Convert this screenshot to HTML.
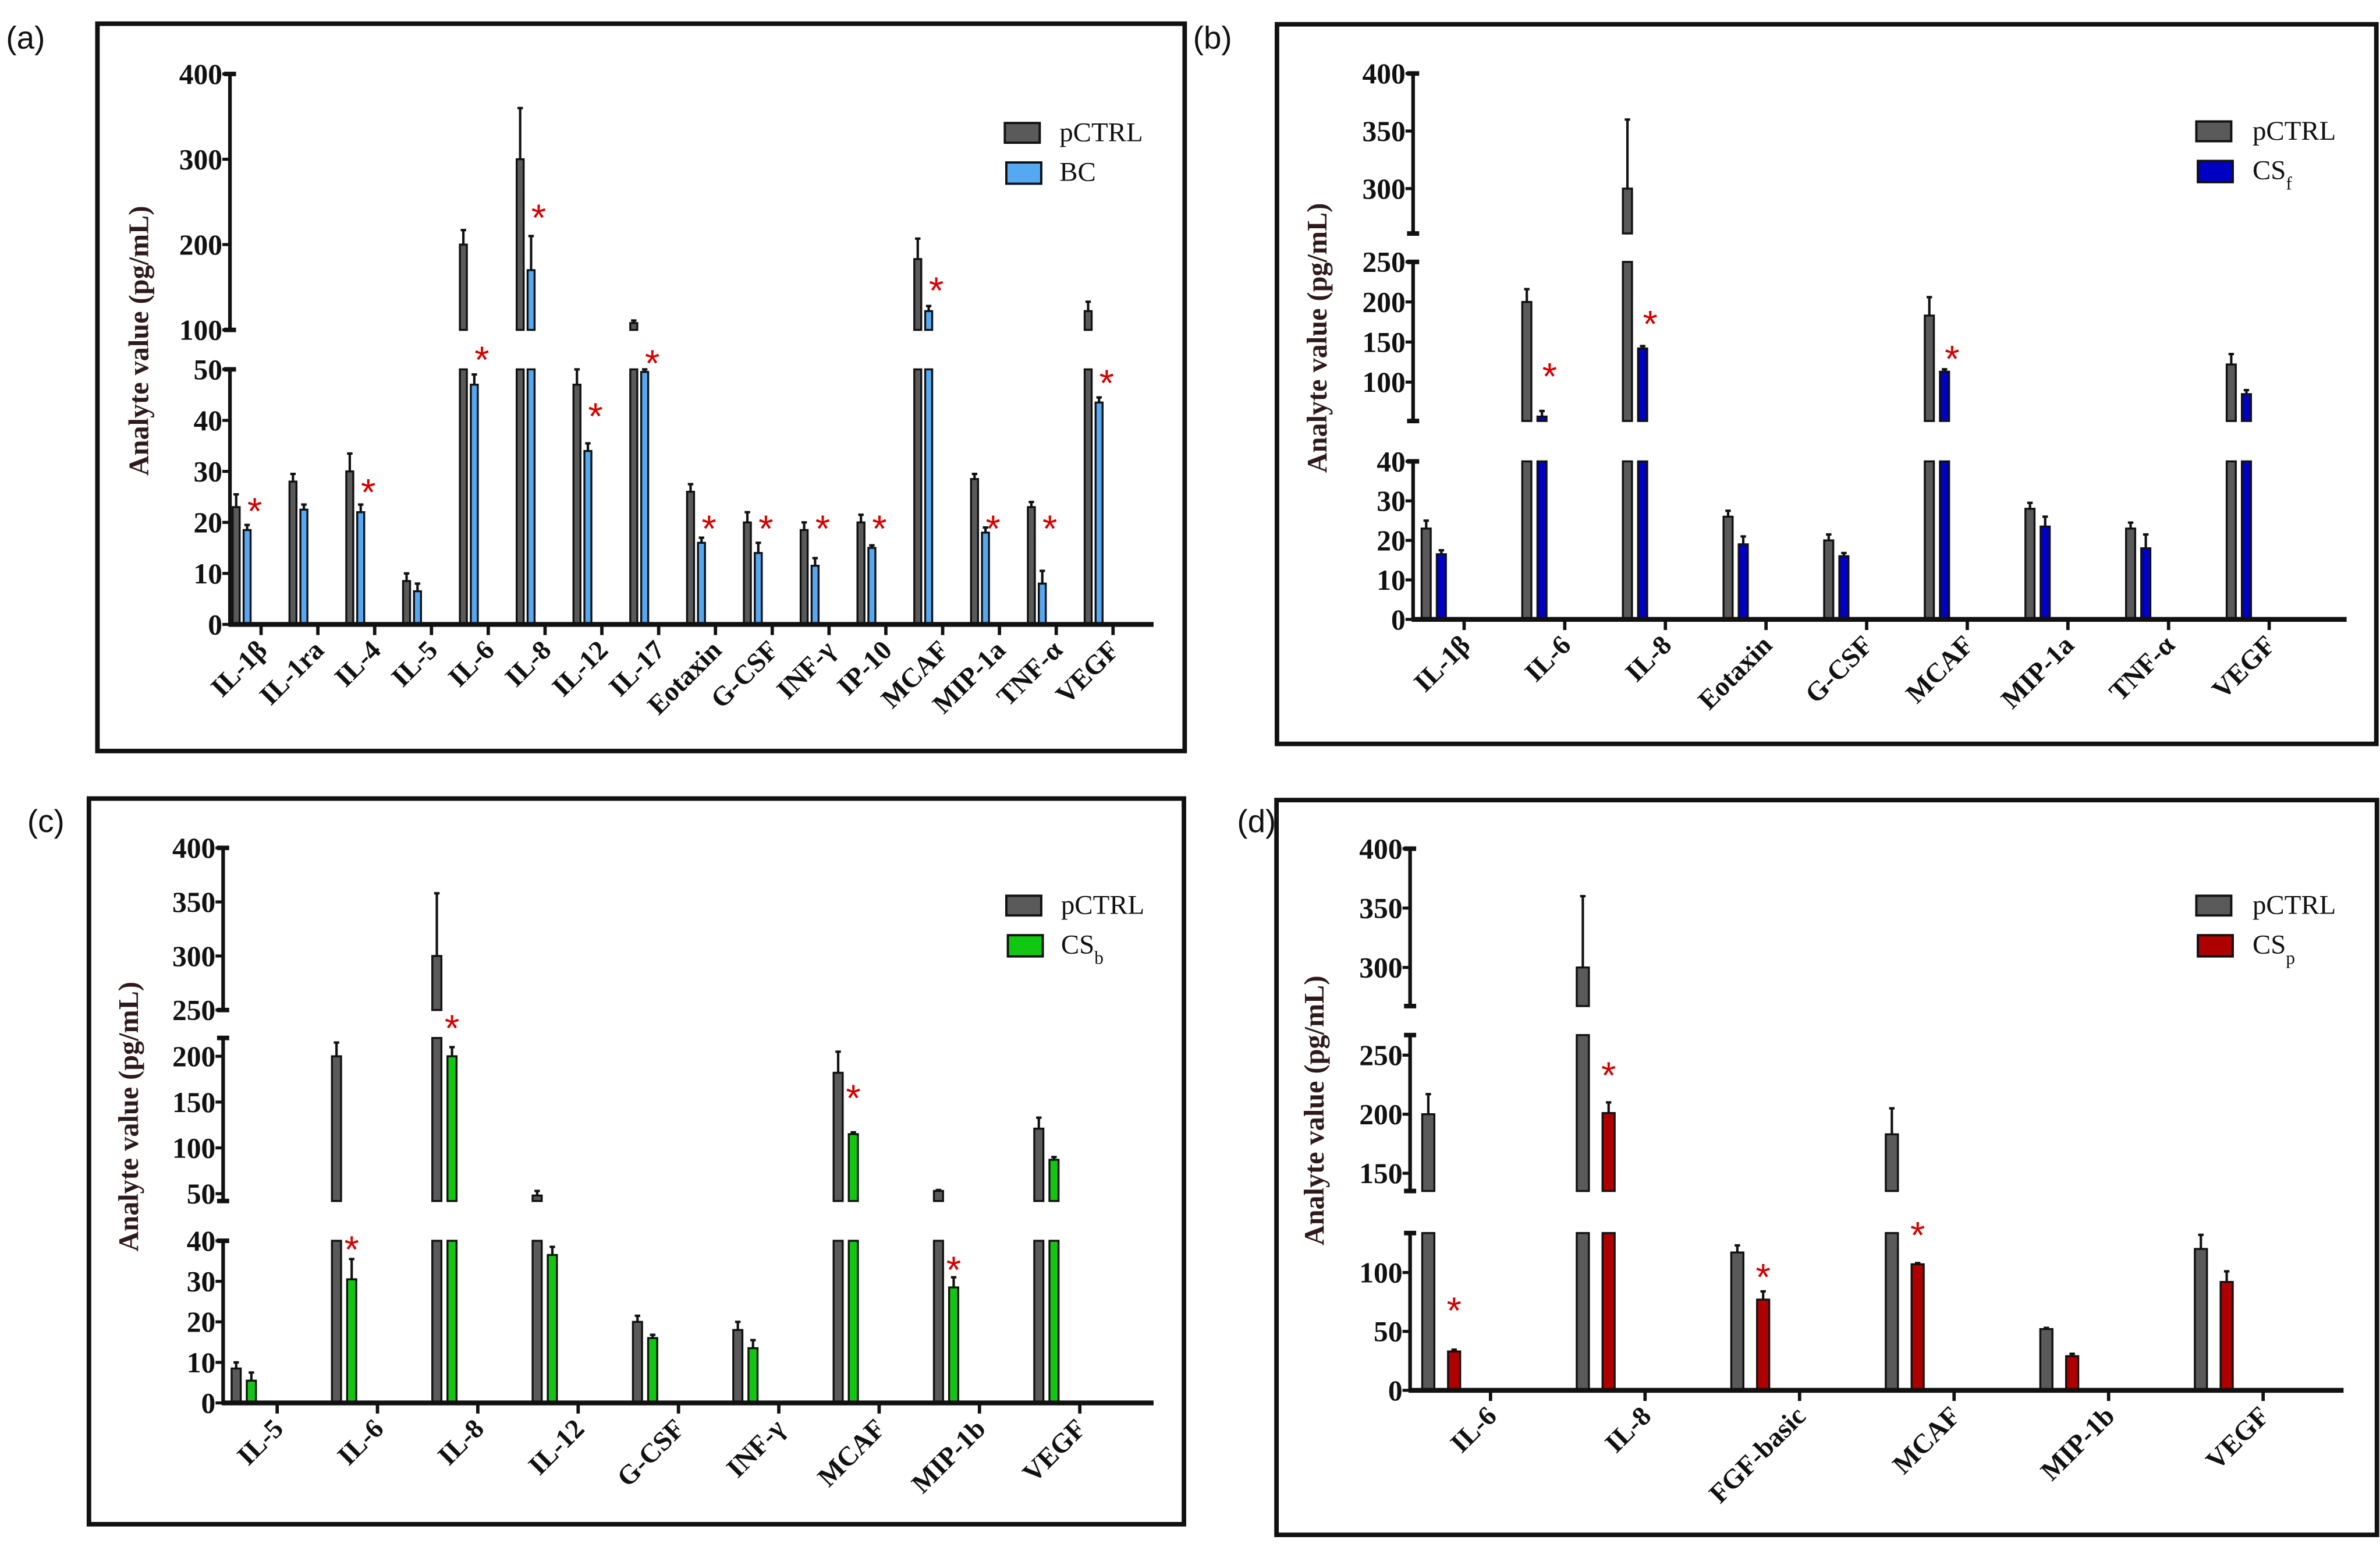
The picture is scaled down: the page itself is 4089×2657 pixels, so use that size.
<!DOCTYPE html>
<html><head><meta charset="utf-8"><title>Analyte values</title>
<style>
html,body{margin:0;padding:0;background:#fff;}
svg{display:block;}
.tk{font-family:"Liberation Serif",serif;font-weight:bold;font-size:19px;fill:#111;}
.cat{font-family:"Liberation Serif",serif;font-weight:bold;font-size:18px;fill:#111;}
.ttl{font-family:"Liberation Serif",serif;font-weight:bold;font-size:18.5px;fill:#2e1a1a;}
.lg{font-family:"Liberation Serif",serif;font-size:18px;fill:#111;}
.pl{font-family:"Liberation Sans",sans-serif;font-size:21px;fill:#111;}
.st{font-family:"Liberation Sans",sans-serif;font-size:25px;fill:#d40000;}
</style></head>
<body>
<svg id="fig" xmlns="http://www.w3.org/2000/svg" width="4089" height="2657" viewBox="0 0 1568 1019" preserveAspectRatio="none"></svg>
<script>
// ---- Panel (a) data ----
const aCats = ["IL-1β","IL-1ra","IL-4","IL-5","IL-6","IL-8","IL-12","IL-17","Eotaxin","G-CSF","INF-γ","IP-10","MCAF","MIP-1a","TNF-α","VEGF"];
const aCtrl = [23,28,30,8.5,200,300,47,108,26,20,18.5,20,183,28.5,23,122];
const aCtrlErr = [25.5,29.5,33.5,10,217,360,50,111,27.5,22,20,21.5,207,29.5,24,133];
const aTrt = [18.5,22.5,22,6.5,47,170,34,49.5,16,14,11.5,15,122,18,8,43.5];
const aTrtErr = [19.5,23.5,23.5,8,49,210,35.5,50,17,16,13,15.5,128,19,10.5,44.5];
const aStars = [23.2,null,26.9,null,68.7,237.5,41.8,64,19.8,19.8,19.8,19.8,152,19.8,19.8,48.3];
const aTicks = [[0,10,20,30,40,50],[100,200,300,400]];
// ---- Panel (b) data ----
const bCats = ["IL-1β","IL-6","IL-8","Eotaxin","G-CSF","MCAF","MIP-1a","TNF-α","VEGF"];
const bCtrl = [23,200,300,26,20,183,28,23,122];
const bCtrlErr = [25,216,360,27.5,21.5,206,29.5,24.5,135];
const bTrt = [16.5,57,142,19,16,113,23.5,18,85];
const bTrtErr = [17.5,64,145,21,16.8,116,26,21.5,90];
const bStars = [null,113.6,179,null,null,135.4,null,null,null];
const bTicks = [[0,10,20,30,40],[100,150,200,250],[300,350,400]];
// ---- Panel (c) data ----
const cCats = ["IL-5","IL-6","IL-8","IL-12","G-CSF","INF-γ","MCAF","MIP-1b","VEGF"];
const cCtrl = [8.5,200,300,48,20,18,182,53,121];
const cCtrlErr = [10,215,358,53,21.5,20,205,54,133];
const cTrt = [5.5,30.5,200,36.5,16,13.5,115,28.5,87];
const cTrtErr = [7.5,35.5,210,38.5,16.8,15.5,117,31,90];
const cStars = [null,39.1,235.8,null,null,null,160,34.1,null];
const cTicks = [[0,10,20,30,40],[50,100,150,200],[250,300,350,400]];
// ---- Panel (d) data ----
const dCats = ["IL-6","IL-8","FGF-basic","MCAF","MIP-1b","VEGF"];
const dCtrl = [200,300,117,183,52,120];
const dCtrlErr = [217,360,123,205,53,132];
const dTrt = [33,201,77,107,29,92];
const dTrtErr = [34.5,210,84,108,31,101];
const dStars = [71.9,237.2,100.3,133.6,null,null];
const dTicks = [[0,50,100],[150,200,250],[300,350,400]];

const NS = "http://www.w3.org/2000/svg";
const svg = document.getElementById('fig');
function mk(tag, attrs, parent){
  const e = document.createElementNS(NS, tag);
  for (const k in attrs) e.setAttribute(k, attrs[k]);
  (parent||svg).appendChild(e);
  return e;
}

const panels = [
 {key:'a', cats:aCats, ctrl:aCtrl, ctrlErr:aCtrlErr, trt:aTrt, trtErr:aTrtErr, stars:aStars, ticks:aTicks,
  bp:[0,50,100,400], py:[411.3,243.3,217.3,48.7], segs:[[0,50],[100,400]],
  ax:151.5, xEnd:760, t0:172, sp:37.42, cOff:-16.4, tOff:-9.2, bw:4.6, sOff:5,
  color:'#55a8f2', trtName:'BC', sub:'', frame:[64.2,15.6,780.5,494.7], label:'(a)', lx:4, ly:32,
  title:[97.6,224.5], leg:[662,81,698], catFs:18},
 {key:'b', cats:bCats, ctrl:bCtrl, ctrlErr:bCtrlErr, trt:bTrt, trtErr:bTrtErr, stars:bStars, ticks:bTicks,
  bp:[0,40,51.5,250,261,400], py:[408,303.9,277.3,172.5,153.8,48.4], segs:[[0,40],[51.5,250],[261,400]],
  ax:931, xEnd:1546, t0:964.6, sp:66.3, cOff:-25, tOff:-15, bw:6, sOff:5,
  color:'#0000c4', trtName:'CS', sub:'f', frame:[841.3,16,1565.6,490], label:'(b)', lx:786, ly:32,
  title:[874,222.6], leg:[1447,80,1484], catFs:19},
 {key:'c', cats:cCats, ctrl:cCtrl, ctrlErr:cCtrlErr, trt:cTrt, trtErr:cTrtErr, stars:cStars, ticks:cTicks,
  bp:[0,40,42,220,250,400], py:[924.1,817.3,791.1,683.7,665.3,558.5], segs:[[0,40],[42,220],[250,400]],
  ax:147, xEnd:760, t0:182.6, sp:66.1, cOff:-27, tOff:-17, bw:6, sOff:0,
  color:'#12c712', trtName:'CS', sub:'b', frame:[58.6,526,780,1004], label:'(c)', lx:18, ly:548,
  title:[90.8,735.5], leg:[663,590,699], catFs:19},
 {key:'d', cats:dCats, ctrl:dCtrl, ctrlErr:dCtrlErr, trt:dTrt, trtErr:dTrtErr, stars:dStars, ticks:dTicks,
  bp:[0,133.5,135,267,267.5,400], py:[915.8,812.2,784.5,681.8,662.7,559], segs:[[0,133.5],[135,267],[267.5,400]],
  ax:929, xEnd:1544, t0:982, sp:101.8, cOff:-41, tOff:-24, bw:8, sOff:0,
  color:'#ae0000', trtName:'CS', sub:'p', frame:[841,527,1566,1011], label:'(d)', lx:815, ly:548,
  title:[872,731.5], leg:[1447,590,1484], catFs:19}
];

function scaleFor(p){
  return function(v){
    const b=p.bp, y=p.py;
    if (v<=b[0]) return y[0];
    for (let i=1;i<b.length;i++){
      if (v<=b[i]) return y[i-1] + (v-b[i-1])/(b[i]-b[i-1])*(y[i]-y[i-1]);
    }
    const n=b.length-1; return y[n] + (v-b[n])/(b[n]-b[n-1])*(y[n]-y[n-1]);
  };
}

panels.forEach(p=>{
  const y = scaleFor(p);
  const g = mk('g', {});
  
  
  const f = p.frame;
  const fr = mk('rect', {x:f[0], y:f[1], width:f[2]-f[0], height:f[3]-f[1], fill:'none', stroke:'#111', 'stroke-width':3}, g);
  
  
  const pl = mk('text', {x:p.lx, y:p.ly, class:'pl'}, g);
  pl.textContent = p.label;
  
  

  p.segs.forEach(s=>{
    const l = mk('line', {x1:p.ax, x2:p.ax, y1:y(s[0]), y2:y(s[1]), stroke:'#111', 'stroke-width':2.4}, g);
    
    
    [s[0], s[1]].forEach(v=>{
      if (v===0) return;
      const c = mk('line', {x1:p.ax-4, x2:p.ax+4, y1:y(v), y2:y(v), stroke:'#111', 'stroke-width':3}, g);
      
      
    });
  });
  p.ticks.flat().forEach(v=>{
    const t = mk('line', {x1:p.ax-5, x2:p.ax, y1:y(v), y2:y(v), stroke:'#111', 'stroke-width':2}, g);
    
    
    const tl = mk('text', {x:p.ax-5, y:y(v)+6.5, class:'tk', 'text-anchor':'end'}, g);
    tl.textContent = v;
    
    
  });
  const tt = mk('text', {x:p.title[0], y:p.title[1], class:'ttl', 'text-anchor':'middle', transform:`rotate(-90 ${p.title[0]} ${p.title[1]})`}, g);
  tt.textContent = 'Analyte value (pg/mL)';
  
  

  function bar(xc, val, err, fill, nm){
    p.segs.forEach(s=>{
      if (val > s[0]){
        const top = Math.min(val, s[1]);
        const r = mk('rect', {x:xc-p.bw/2, y:y(top), width:p.bw, height:y(s[0])-y(top), fill:fill, stroke:'#111', 'stroke-width':1.3}, g);
        
        
      }
    });
    const e = mk('line', {x1:xc, x2:xc, y1:y(val), y2:y(err), stroke:'#111', 'stroke-width':1.6}, g);
    
    
    const c = mk('line', {x1:xc-1.8, x2:xc+1.8, y1:y(err), y2:y(err), stroke:'#111', 'stroke-width':1.6}, g);
    
    
  }

  p.cats.forEach((cat,i)=>{
    const tx = p.t0 + i*p.sp;
    bar(tx+p.cOff, p.ctrl[i], p.ctrlErr[i], '#5a5a5a', 'bar-pctrl');
    bar(tx+p.tOff, p.trt[i], p.trtErr[i], p.color, 'bar-treatment');
    if (p.stars[i] !== null){
      const st = mk('text', {x:tx+p.tOff+p.sOff, y:y(p.stars[i])+12, class:'st', 'text-anchor':'middle'}, g);
      st.textContent = '*';
      
      
    }
    const xt = mk('line', {x1:tx, x2:tx, y1:y(0), y2:y(0)+7, stroke:'#111', 'stroke-width':2.2}, g);
    
    
    const lx = tx+5, ly = y(0)+18;
    const cl = mk('text', {x:lx, y:ly, class:'cat', 'text-anchor':'end', 'font-size':p.catFs, transform:`rotate(-45 ${lx} ${ly})`}, g);
    cl.textContent = cat;
    
    
  });
  const xa = mk('line', {x1:p.ax-1, x2:p.xEnd, y1:y(0), y2:y(0), stroke:'#111', 'stroke-width':3.2}, g);
  
  

  const L = p.leg;
  const lg = mk('g', {}, g);
  
  
  const r1 = mk('rect', {x:L[0], y:L[1], width:23, height:13, fill:'#5a5a5a', stroke:'#111', 'stroke-width':1.5}, lg);
  
  
  const t1 = mk('text', {x:L[2], y:L[1]+12, class:'lg'}, lg);
  t1.textContent = 'pCTRL';
  
  
  const r2 = mk('rect', {x:L[0]+1, y:L[1]+26, width:23, height:14, fill:p.color, stroke:'#111', 'stroke-width':1.5}, lg);
  
  
  const t2 = mk('text', {x:L[2], y:L[1]+38, class:'lg'}, lg);
  t2.textContent = p.trtName;
  if (p.sub){
    const ts = mk('tspan', {'baseline-shift':'sub', 'font-size':12}, t2);
    ts.textContent = p.sub;
  }
  
  
});
</script>
</body></html>
